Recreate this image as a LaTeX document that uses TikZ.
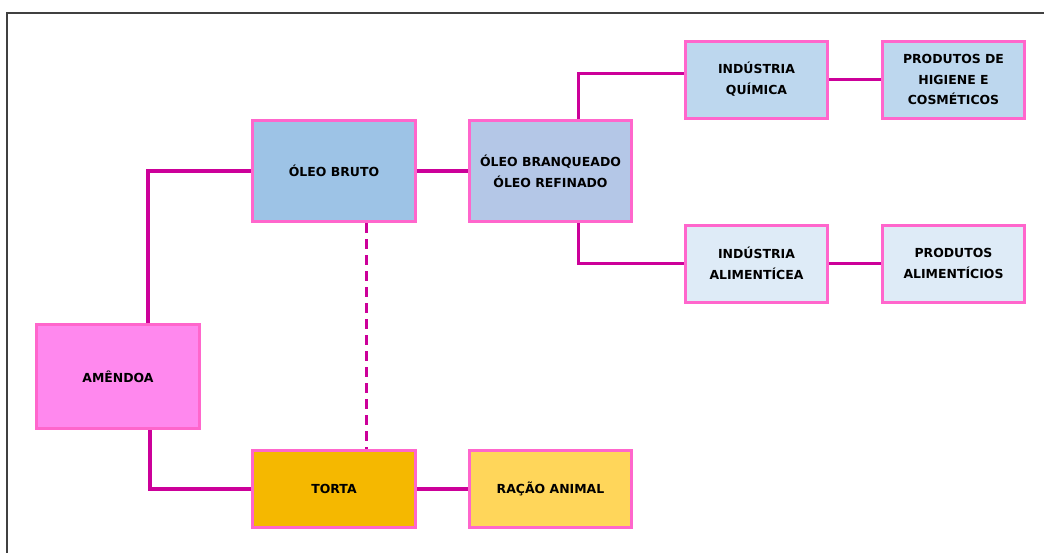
\documentclass[tikz,border=0pt]{standalone}
\usepackage{fontspec}
\setmainfont{DejaVu Sans}
\usepackage{tikz}
\usetikzlibrary{positioning}

\definecolor{framegray}{RGB}{64,64,64}
\definecolor{boxpink}{RGB}{255,102,204}
\definecolor{linkpink}{RGB}{204,0,153}
\definecolor{amendoafill}{RGB}{255,136,238}
\definecolor{brutofill}{RGB}{157,195,230}
\definecolor{refinofill}{RGB}{180,199,231}
\definecolor{quimicafill}{RGB}{189,215,238}
\definecolor{alimfill}{RGB}{222,235,247}
\definecolor{tortafill}{RGB}{245,184,0}
\definecolor{racaofill}{RGB}{255,214,90}

\tikzset{
  box/.style={draw=boxpink, line width=3bp, align=center, inner sep=2bp,
    font=\fontsize{12.5}{21}\selectfont\bfseries},
  bigbox/.style={box, minimum width=163bp, minimum height=101bp},
  smallbox/.style={box, minimum width=142bp, minimum height=77bp},
  link/.style={draw=linkpink, line width=3.5bp}
}

\begin{document}
\begin{tikzpicture}
\useasboundingbox (0bp,0bp) rectangle (1044bp,-553bp);
\draw [line width=2bp, color=framegray] (6.5bp,-553bp) -- (6.5bp,-13bp) -- (1044bp,-13bp);

\node (amendoa) at (118bp,-376.5bp)[bigbox, minimum height=104bp, fill=amendoafill] {AMÊNDOA};
\node (bruto) at (334bp,-171bp)[bigbox, fill=brutofill] {ÓLEO BRUTO};
\node (refino) at (550.5bp,-171bp)[bigbox, minimum width=162bp, fill=refinofill] {ÓLEO BRANQUEADO\\ÓLEO REFINADO};
\node (quimica) at (756.5bp,-79.5bp)[smallbox, fill=quimicafill] {INDÚSTRIA\\QUÍMICA};
\node (higiene) at (953.5bp,-79.5bp)[smallbox, fill=quimicafill] {PRODUTOS DE\\HIGIENE E\\COSMÉTICOS};
\node (alimento) at (756.5bp,-263.5bp)[smallbox, fill=alimfill] {INDÚSTRIA\\ALIMENTÍCEA};
\node (produto) at (953.5bp,-263.5bp)[smallbox, fill=alimfill] {PRODUTOS\\ALIMENTÍCIOS};
\node (torta) at (334bp,-489bp)[bigbox, minimum height=77bp, fill=tortafill] {TORTA};
\node (racao) at (550.5bp,-489bp)[bigbox, minimum width=162bp, minimum height=77bp, fill=racaofill] {RAÇÃO ANIMAL};

\draw [link] ([xshift=30bp]amendoa.north) |- (bruto.west);
\draw [link] ([xshift=32bp]amendoa.south) |- (torta.west);
\draw [link] (bruto) -- (refino);
\draw [link] ([xshift=28bp]refino.north) |- ([yshift=6bp]quimica.west);
\draw [link] ([xshift=28bp]refino.south) |- (alimento.west);
\draw [link] (quimica) -- (higiene);
\draw [link] (alimento) -- (produto);
\draw [link] (torta) -- (racao);
\draw [link, line width=3bp, dash pattern=on 10bp off 6bp] ([xshift=32bp]bruto.south) -- ([xshift=32bp]torta.north);

\end{tikzpicture}
\end{document}
